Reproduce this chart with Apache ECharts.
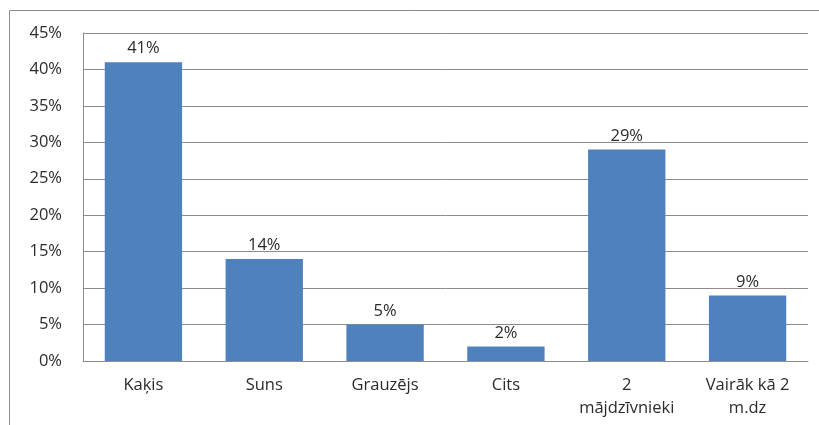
<!DOCTYPE html>
<html>
<head>
<meta charset="utf-8" />
<title>Mājdzīvnieki</title>
<style>
  html, body { margin: 0; padding: 0; background: #fff; }
  #main { width: 819px; height: 425px; }
</style>
</head>
<body>
<div id="main"></div>
<script src="https://cdn.jsdelivr.net/npm/echarts@6/dist/echarts.min.js"></script>
<script>
var categories = ['Kaķis', 'Suns', 'Grauzējs', 'Cits', '2\nmājdzīvnieki', 'Vairāk kā 2\nm.dz'];
var values = [41, 14, 5, 2, 29, 9];
var yTicks = { min: 0, max: 45, interval: 5 };

var font = 'Open Sans';
var chart = echarts.init(document.getElementById('main'));
chart.setOption({
    animation: false,
    textStyle: { fontFamily: font },
    graphic: [
        {
            type: 'polyline',
            shape: { points: [[9.5, 425], [9.5, 10.5], [819, 10.5]] },
            style: { stroke: '#8c8c8c', lineWidth: 1, fill: null }
        }
    ],
    grid: { left: 83, right: 11, top: 33, bottom: 64, containLabel: false },
    xAxis: {
        type: 'category',
        data: categories,
        axisLine: { show: true, lineStyle: { color: '#8c8c8c', width: 1 } },
        axisTick: { show: false },
        axisLabel: {
            color: '#2b2b2b', fontSize: 16.5, margin: 13, lineHeight: 23,
            interval: 0, fontFamily: font
        }
    },
    yAxis: {
        type: 'value',
        min: yTicks.min, max: yTicks.max, interval: yTicks.interval,
        axisLine: { show: true, lineStyle: { color: '#8c8c8c', width: 1 } },
        axisTick: { show: false },
        splitLine: { lineStyle: { color: '#8c8c8c', width: 1 } },
        axisLabel: {
            color: '#2b2b2b', fontSize: 16.5, margin: 21, fontFamily: font,
            formatter: '{value}%'
        }
    },
    series: [{
        type: 'bar',
        data: values,
        barCategoryGap: '36%',
        itemStyle: { color: '#4f81bd' },
        label: {
            show: true, position: 'top', distance: 5,
            color: '#2b2b2b', fontSize: 16.5, fontFamily: font,
            formatter: '{c}%'
        }
    }]
});
</script>
</body>
</html>
